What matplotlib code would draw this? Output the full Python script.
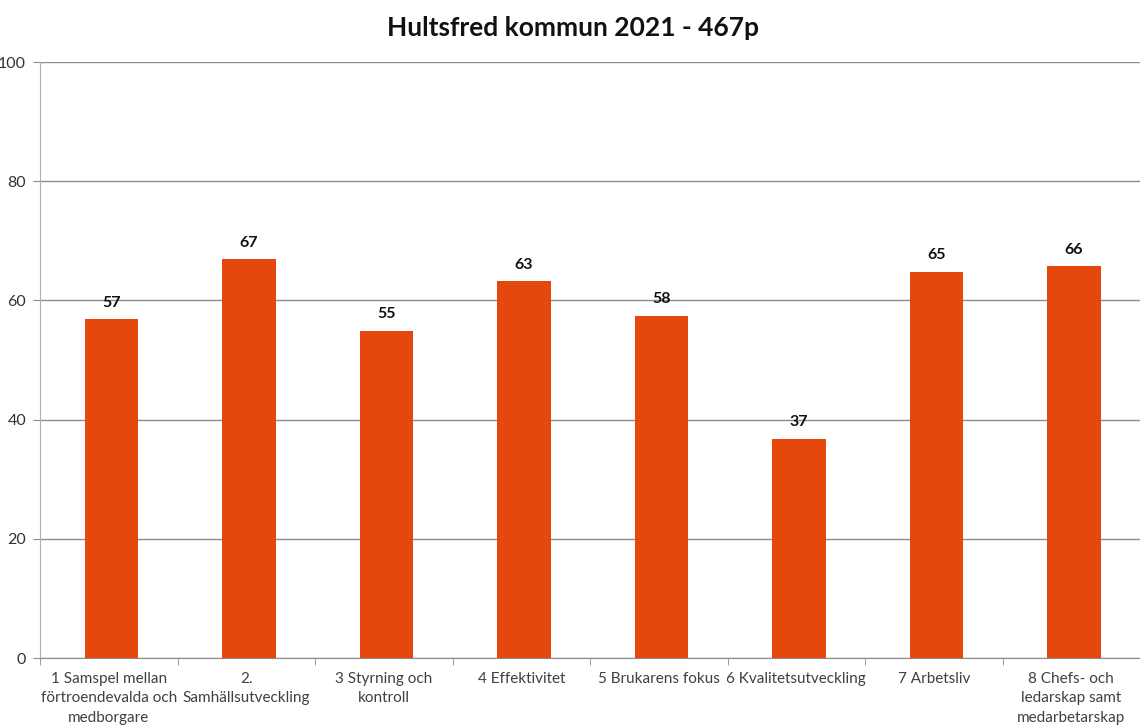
import matplotlib
matplotlib.use("Agg")
import matplotlib.pyplot as plt
import numpy as np

plt.rcParams["font.family"] = ["Lato", "DejaVu Sans"]

categories = [
    "1 Samspel mellan\nförtroendevalda och\nmedborgare",
    "2.\nSamhällsutveckling",
    "3 Styrning och\nkontroll",
    "4 Effektivitet",
    "5 Brukarens fokus",
    "6 Kvalitetsutveckling",
    "7 Arbetsliv",
    "8 Chefs- och\nledarskap samt\nmedarbetarskap",
]
values = [56.8, 66.9, 54.9, 63.2, 57.4, 36.8, 64.8, 65.7]
labels = ["57", "67", "55", "63", "58", "37", "65", "66"]
yticks = [0, 20, 40, 60, 80, 100]

fig = plt.figure(figsize=(11.4, 7.27), dpi=100)
ax = fig.add_axes([40 / 1140, 1 - 658 / 727, 1 - 40 / 1140, (658 - 62) / 727])

x = np.arange(len(values))
ax.bar(x + 0.02, values, width=0.39, color="#E6470C", zorder=3)
for xi, v, lab in zip(x, values, labels):
    ax.annotate(lab, (xi + 0.02, v), xytext=(0, 7), textcoords="offset points",
                ha="center", va="bottom", fontsize=11.5, fontweight="bold",
                color="#111111")

ax.set_xlim(-0.5, len(values) - 0.5)
ax.set_ylim(0, 100)
ax.set_yticks(yticks)
ax.set_yticklabels([str(t) for t in yticks], fontsize=11.5, color="#333333")
ax.yaxis.grid(True, color="#8c8c8c", linewidth=1, zorder=0)

ax.set_xticks(x)
ax.set_xticklabels(categories, fontsize=11, color="#404040", linespacing=1.5)
ax.tick_params(axis="x", length=0, pad=10)
ax.set_xticks(np.arange(-0.5, len(values), 1), minor=True)
ax.tick_params(axis="x", which="minor", length=5, color="#8c8c8c", direction="out")
ax.tick_params(axis="y", length=5, color="#8c8c8c", pad=5)

for s in ["top", "right"]:
    ax.spines[s].set_visible(False)
ax.spines["left"].set_color("#b0b0b0")
ax.spines["bottom"].set_color("#8c8c8c")

fig.text(573 / 1140, 1 - 28 / 727, "Hultsfred kommun 2021 - 467p", ha="center",
         va="center", fontsize=19, fontweight="bold", color="#111111")

fig.savefig("out.png", dpi=100)
